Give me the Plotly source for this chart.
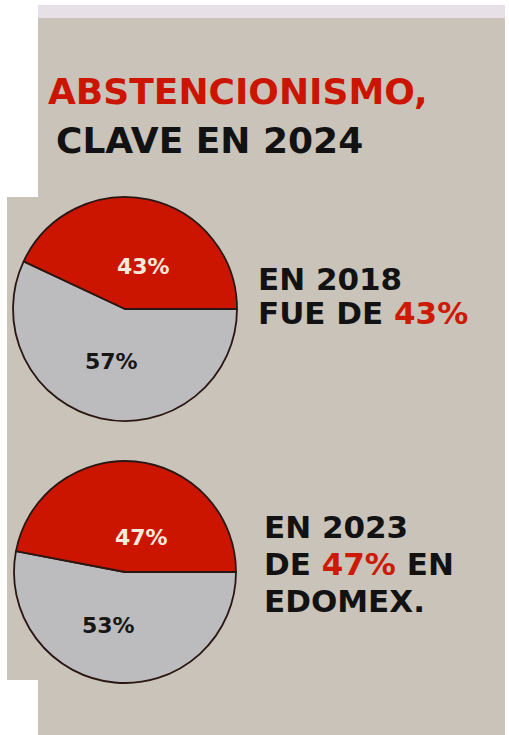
import plotly.graph_objects as go

# ---- data ----
years = ["2018", "2023"]
abstention = [43, 47]          # red slice (%)
participation = [57, 53]       # grey slice (%)
title_red = "ABSTENCIONISMO,"
title_black = "CLAVE EN 2024"
side_lines = [
    ["EN 2018", "FUE DE <span style='color:#cc1a06'>43%</span>"],
    ["EN 2023", "DE <span style='color:#cc1a06'>47%</span> EN", "EDOMEX."],
]

W, H = 509, 735
RED = "#cc1500"
GREY = "#bcbcbe"
BEIGE = "#c9c3b9"
FONT = "DejaVu Sans"


def px(x):
    return x / W


def py(y):
    return 1 - y / H


fig = go.Figure()

# pies (center px, radius px)
pies = [(125, 309, 112), (125, 572, 111)]
for i, (cx, cy, r) in enumerate(pies):
    fig.add_trace(go.Pie(
        values=[participation[i], abstention[i]],
        labels=["Participación", "Abstención"],
        sort=False,
        direction="counterclockwise",
        rotation=90,
        marker=dict(colors=[GREY, RED], line=dict(color="#2a1612", width=1.8)),
        textinfo="none",
        hoverinfo="label+percent",
        showlegend=False,
        domain=dict(x=[px(cx - r), px(cx + r)], y=[py(cy + r), py(cy - r)]),
    ))

shapes = [
    dict(type="rect", xref="paper", yref="paper", x0=px(38), x1=px(505), y0=py(735), y1=py(18),
         fillcolor=BEIGE, line=dict(width=0), layer="below"),
    dict(type="rect", xref="paper", yref="paper", x0=px(38), x1=px(505), y0=py(18), y1=py(5),
         fillcolor="#e7e0e6", line=dict(width=0), layer="below"),
    dict(type="rect", xref="paper", yref="paper", x0=px(7), x1=px(38), y0=py(680), y1=py(197),
         fillcolor=BEIGE, line=dict(width=0), layer="below"),
]

ann = []


def add_text(x, y, text, size, color, anchor="left"):
    ann.append(dict(x=px(x), y=py(y), xref="paper", yref="paper", text=text, showarrow=False,
                    xanchor=anchor, yanchor="middle",
                    font=dict(family=FONT, size=size, color=color, weight="bold")))


add_text(46, 92, title_red, 36, RED)
add_text(54, 141, title_black, 36, "#121212")

# slice labels
lab_pos = [((143, 266), (111, 361)), ((141, 537), (108, 625))]
for i in range(2):
    (rx, ry), (gx, gy) = lab_pos[i]
    add_text(rx, ry, f"{abstention[i]}%", 22, "#f6eadb", "center")
    add_text(gx, gy, f"{participation[i]}%", 22, "#161616", "center")

# side texts
side_y = [[279, 313], [527, 564, 601]]
side_x = [256, 262]
for blk, lines in enumerate(side_lines):
    for j, t in enumerate(lines):
        add_text(side_x[blk], side_y[blk][j], t, 31, "#121212")

fig.update_layout(
    width=W, height=H,
    margin=dict(l=0, r=0, t=0, b=0),
    paper_bgcolor="white",
    plot_bgcolor="white",
    shapes=shapes,
    annotations=ann,
)

fig.write_html("out.html", config={"displayModeBar": False},
               post_script="document.body.style.margin='0';")
